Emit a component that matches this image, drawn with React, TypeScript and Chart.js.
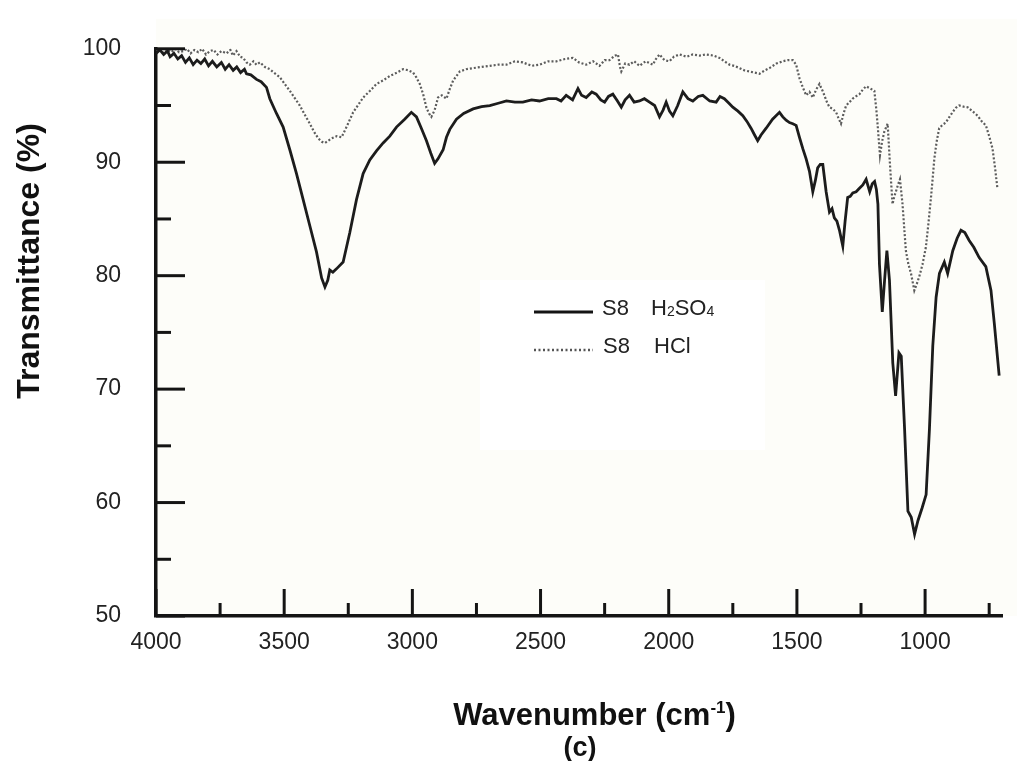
import React, { useEffect, useRef } from "react";
import { Chart, registerables } from "chart.js";

Chart.register(...registerables);

// ---- Data ----
const h2so4Wavenumber = [
  4000, 3985, 3970, 3955, 3945, 3930, 3915, 3900, 3885, 3870,
  3855, 3840, 3825, 3810, 3795, 3780, 3763, 3745, 3730, 3715,
  3699, 3685, 3670, 3655, 3647, 3630, 3608, 3590, 3569, 3556,
  3530, 3504, 3478, 3452, 3426, 3400, 3374, 3354, 3341, 3330,
  3322, 3310, 3296, 3270, 3244, 3218, 3192, 3166, 3140, 3114,
  3088, 3062, 3030, 3004, 2984, 2965, 2945, 2928, 2913, 2900,
  2880, 2867, 2854, 2828, 2800, 2763, 2730, 2698, 2665, 2633,
  2600, 2569, 2535, 2504, 2470, 2438, 2420, 2400, 2375, 2354,
  2340, 2322, 2300, 2283, 2265, 2250, 2235, 2218, 2200, 2185,
  2170, 2153, 2135, 2114, 2095, 2075, 2055, 2036, 2022, 2010,
  1997, 1984, 1965, 1945, 1925, 1906, 1885, 1867, 1840, 1815,
  1800, 1783, 1765, 1750, 1730, 1711, 1695, 1679, 1665, 1653,
  1640, 1620, 1595, 1568, 1555, 1542, 1529, 1516, 1503, 1490,
  1477, 1464, 1451, 1438, 1428, 1419, 1409, 1399, 1386, 1373,
  1363, 1354, 1344, 1334, 1321, 1312, 1302, 1292, 1282, 1269,
  1256, 1243, 1230, 1216, 1206, 1197, 1190, 1184, 1178, 1167,
  1158, 1149, 1139, 1126, 1115, 1102, 1093, 1080, 1067, 1054,
  1041, 1028, 1012, 996, 983, 970, 957, 944, 925, 912,
  892, 875, 860, 845, 828, 810, 789, 763, 743, 730,
  711,
];
const h2so4Transmittance = [
  99.6, 99.9, 99.5, 99.8, 99.3, 99.6, 99.1, 99.4, 98.8, 99.2,
  98.6, 99.0, 98.7, 99.1, 98.5, 98.9, 98.4, 98.8, 98.2, 98.6,
  98.1, 98.4, 97.9, 98.2, 97.8, 97.7, 97.3, 97.1, 96.6, 95.6,
  94.3, 93.1, 91.1, 89.0, 86.7, 84.4, 82.1, 79.8, 79.0, 79.6,
  80.5, 80.3, 80.6, 81.2, 83.8, 86.7, 89.0, 90.2, 91.0, 91.7,
  92.3, 93.1, 93.8, 94.4, 94.0, 93.0, 91.9, 90.8, 89.9, 90.3,
  91.1, 92.2, 92.9, 93.8, 94.3, 94.7, 94.9, 95.0, 95.2, 95.4,
  95.3, 95.3, 95.5, 95.4, 95.6, 95.6, 95.4, 95.9, 95.5, 96.5,
  95.9, 95.7, 96.2, 96.0, 95.5, 95.3, 95.8, 96.0, 95.4, 94.85,
  95.5, 95.9, 95.3, 95.4, 95.6, 95.3, 95.0, 94.0, 94.6, 95.3,
  94.5, 94.1, 95.0, 96.2, 95.6, 95.4, 95.8, 95.9, 95.4, 95.3,
  95.8, 95.6, 95.2, 94.85, 94.5, 94.1, 93.6, 93.0, 92.4, 91.9,
  92.4, 93.0, 93.8, 94.4, 94.0, 93.7, 93.5, 93.4, 93.25, 92.2,
  91.2, 90.3, 89.2, 87.4, 88.4, 89.5, 89.8, 89.8, 87.4, 85.6,
  85.9, 85.1, 84.8, 84.0, 82.6, 84.8, 86.9, 87.0, 87.3, 87.4,
  87.7, 88.0, 88.5, 87.4, 88.1, 88.3, 87.6, 86.3, 81.0, 76.8,
  79.6, 82.2, 79.6, 72.3, 69.4, 73.2, 72.9, 66.5, 59.25, 58.7,
  57.2, 58.4, 59.5, 60.7, 66.5, 73.8, 78.1, 80.2, 81.2, 80.2,
  82.2, 83.3, 84.0, 83.8, 83.1, 82.5, 81.6, 80.8, 78.7, 75.8,
  71.2,
];

const hclWavenumber = [
  4000, 3985, 3970, 3955, 3940, 3925, 3910, 3894, 3880, 3865,
  3850, 3835, 3820, 3805, 3790, 3775, 3760, 3745, 3725, 3710,
  3700, 3686, 3672, 3660, 3647, 3634, 3620, 3608, 3595, 3575,
  3556, 3540, 3517, 3498, 3478, 3460, 3439, 3420, 3400, 3384,
  3367, 3353, 3341, 3328, 3315, 3295, 3276, 3257, 3231, 3210,
  3192, 3165, 3140, 3115, 3088, 3060, 3036, 3015, 2997, 2985,
  2971, 2958, 2945, 2935, 2926, 2913, 2900, 2885, 2867, 2855,
  2841, 2815, 2790, 2763, 2730, 2698, 2665, 2633, 2600, 2569,
  2535, 2504, 2470, 2438, 2405, 2374, 2350, 2322, 2295, 2270,
  2250, 2231, 2210, 2198, 2190, 2185, 2170, 2153, 2135, 2114,
  2090, 2062, 2050, 2036, 2017, 1997, 1980, 1958, 1930, 1906,
  1880, 1854, 1825, 1802, 1783, 1763, 1745, 1724, 1705, 1685,
  1665, 1646, 1625, 1607, 1580, 1555, 1535, 1516, 1503, 1490,
  1477, 1464, 1451, 1438, 1425, 1412, 1400, 1393, 1383, 1373,
  1360, 1347, 1338, 1328, 1318, 1308, 1295, 1283, 1270, 1256,
  1243, 1230, 1214, 1198, 1190, 1185, 1176, 1168, 1159, 1146,
  1137, 1127, 1120, 1114, 1106, 1098, 1088, 1075, 1065, 1055,
  1042, 1032, 1023, 1010, 997, 987, 977, 970, 964, 955,
  945, 932, 919, 905, 893, 880, 867, 850, 834, 815,
  795, 779, 763, 750, 737, 727, 718,
];
const hclTransmittance = [
  99.9, 100.0, 99.6, 99.9, 99.7, 100.0, 99.7, 99.8, 100.0, 99.6,
  99.9, 99.7, 100.0, 99.5, 99.8, 99.9, 99.5, 99.8, 99.6, 99.9,
  99.4, 99.8, 99.3, 99.2, 98.8, 98.6, 98.9, 98.6, 98.8, 98.4,
  98.2, 97.9, 97.5, 96.9, 96.3, 95.7, 95.0, 94.2, 93.4, 92.7,
  92.1, 91.8, 91.7, 91.9, 92.1, 92.3, 92.2, 93.1, 94.4, 95.1,
  95.7, 96.3, 96.9, 97.2, 97.6, 97.9, 98.2, 98.1, 97.9, 97.5,
  96.9, 96.0, 94.8, 94.3, 94.0, 94.6, 95.7, 95.9, 95.6, 96.4,
  97.2, 98.0, 98.2, 98.3, 98.4, 98.5, 98.6, 98.6, 98.9, 98.8,
  98.5, 98.6, 98.9, 98.9, 99.1, 99.2, 98.8, 98.6, 98.9, 98.5,
  99.0, 99.0, 99.4, 99.5, 98.4, 98.0, 98.7, 98.6, 98.9, 98.5,
  98.9, 98.6, 99.1, 99.5, 99.0, 98.9, 99.3, 99.5, 99.3, 99.5,
  99.4, 99.5, 99.4, 99.2, 98.9, 98.6, 98.5, 98.3, 98.1, 98.0,
  97.9, 97.8, 98.1, 98.3, 98.7, 98.9, 99.0, 99.0, 98.6, 97.4,
  96.6, 95.9, 96.2, 95.7, 96.4, 96.9, 96.3, 95.9, 95.3, 94.85,
  94.7, 94.4, 93.9, 93.4, 94.3, 95.0, 95.3, 95.6, 95.8, 96.0,
  96.4, 96.7, 96.5, 96.3, 94.6, 93.25, 90.6, 91.8, 92.7, 93.4,
  89.8, 86.3, 87.0, 87.4, 88.0, 88.5, 86.3, 82.2, 81.0, 80.2,
  78.7, 79.3, 79.9, 81.0, 82.5, 84.6, 86.9, 88.7, 90.3, 91.8,
  93.0, 93.3, 93.5, 94.0, 94.4, 94.8, 95.0, 94.9, 94.85, 94.5,
  94.1, 93.6, 93.25, 92.3, 91.2, 89.5, 87.7,
];

const xMajorTicks = [4000, 3500, 3000, 2500, 2000, 1500, 1000];
const xMinorTicks = [3750, 3250, 2750, 2250, 1750, 1250, 750];
const yMajorTicks = [50, 60, 70, 80, 90, 100];
const yMinorTicks = [55, 65, 75, 85, 95];

const seriesNames = ["S8 H2SO4", "S8 HCl"];
const yTitle = "Transmittance (%)";
const xTitleMain = "Wavenumber (cm";
const xTitleSup = "-1";
const xTitleEnd = ")";
const panelLabel = "(c)";

const FONT = "'Liberation Sans', Arial, Helvetica, sans-serif";

const decorPlugin = {
  id: "decor",
  beforeDraw(chart: any) {
    const { ctx, width, height, chartArea } = chart;
    ctx.save();
    ctx.fillStyle = "#ffffff";
    ctx.fillRect(0, 0, width, height);
    ctx.fillStyle = "#fdfdf9";
    ctx.fillRect(chartArea.left, chartArea.top - 30, chartArea.right - chartArea.left + 15, chartArea.bottom - chartArea.top + 30);
    // white legend panel
    ctx.fillStyle = "#ffffff";
    ctx.fillRect(480, 280, 285, 170);
    ctx.restore();
  },
  afterDatasetsDraw(chart: any) {
    const { ctx, chartArea } = chart;
    const xs = chart.scales.x;
    const ys = chart.scales.y;
    ctx.save();
    ctx.strokeStyle = "#141414";
    ctx.lineWidth = 3;
    ctx.lineCap = "butt";
    const line = (x1: number, y1: number, x2: number, y2: number) => {
      ctx.beginPath();
      ctx.moveTo(x1, y1);
      ctx.lineTo(x2, y2);
      ctx.stroke();
    };
    xMajorTicks.forEach((v) => {
      const p = xs.getPixelForValue(v);
      line(p, chartArea.bottom, p, chartArea.bottom - 27);
    });
    xMinorTicks.forEach((v) => {
      const p = xs.getPixelForValue(v);
      line(p, chartArea.bottom, p, chartArea.bottom - 13);
    });
    yMajorTicks.forEach((v) => {
      const p = ys.getPixelForValue(v);
      line(chartArea.left, p, chartArea.left + 29, p);
    });
    yMinorTicks.forEach((v) => {
      const p = ys.getPixelForValue(v);
      line(chartArea.left, p, chartArea.left + 15, p);
    });
    ctx.restore();
  },
  afterDraw(chart: any) {
    const { ctx } = chart;
    ctx.save();
    // legend samples
    ctx.strokeStyle = "#141414";
    ctx.lineWidth = 3;
    ctx.beginPath();
    ctx.moveTo(534, 312);
    ctx.lineTo(593, 312);
    ctx.stroke();
    ctx.strokeStyle = "#555555";
    ctx.lineWidth = 2.5;
    ctx.setLineDash([2, 2.5]);
    ctx.beginPath();
    ctx.moveTo(534, 350);
    ctx.lineTo(593, 350);
    ctx.stroke();
    ctx.setLineDash([]);

    // legend text (with chemical subscripts)
    ctx.fillStyle = "#222222";
    ctx.textBaseline = "alphabetic";
    ctx.textAlign = "left";
    const [s1Prefix, s1Formula] = seriesNames[0].split(" ");
    const [s2Prefix, s2Formula] = seriesNames[1].split(" ");
    ctx.font = `22px ${FONT}`;
    ctx.fillText(s1Prefix, 602, 315);
    ctx.fillText(s2Prefix, 603, 353);
    let x = 651;
    for (const ch of s1Formula) {
      if (/[0-9]/.test(ch)) {
        ctx.font = `14px ${FONT}`;
        ctx.fillText(ch, x, 316);
        x += ctx.measureText(ch).width;
      } else {
        ctx.font = `22px ${FONT}`;
        ctx.fillText(ch, x, 315);
        x += ctx.measureText(ch).width;
      }
    }
    ctx.font = `22px ${FONT}`;
    ctx.fillText(s2Formula, 654, 353);

    // y-axis title
    ctx.fillStyle = "#111111";
    ctx.save();
    ctx.translate(39, 261);
    ctx.rotate(-Math.PI / 2);
    ctx.textAlign = "center";
    ctx.font = `bold 32px ${FONT}`;
    ctx.fillText(yTitle, 0, 0);
    ctx.restore();

    // x-axis title with superscript
    ctx.font = `bold 31px ${FONT}`;
    const wMain = ctx.measureText(xTitleMain).width;
    const wEnd = ctx.measureText(xTitleEnd).width;
    ctx.font = `bold 17px ${FONT}`;
    const wSup = ctx.measureText(xTitleSup).width;
    const total = wMain + wSup + wEnd;
    let tx = 594.5 - total / 2;
    ctx.textAlign = "left";
    ctx.font = `bold 31px ${FONT}`;
    ctx.fillText(xTitleMain, tx, 725);
    tx += wMain;
    ctx.font = `bold 17px ${FONT}`;
    ctx.fillText(xTitleSup, tx, 713);
    tx += wSup;
    ctx.font = `bold 31px ${FONT}`;
    ctx.fillText(xTitleEnd, tx, 725);

    // panel label
    ctx.textAlign = "center";
    ctx.font = `bold 27px ${FONT}`;
    ctx.fillText(panelLabel, 580, 756);
    ctx.restore();
  },
};

export default function App() {
  const canvasRef = useRef<HTMLCanvasElement | null>(null);

  useEffect(() => {
    document.body.style.margin = "0";
    const canvas = canvasRef.current;
    if (!canvas) return;
    const chart = new Chart(canvas, {
      type: "line",
      data: {
        datasets: [
          {
            label: seriesNames[0],
            data: h2so4Wavenumber.map((w, i) => ({ x: w, y: h2so4Transmittance[i] })),
            borderColor: "#1c1c1c",
            borderWidth: 2.8,
            pointRadius: 0,
            tension: 0,
            fill: false,
          },
          {
            label: seriesNames[1],
            data: hclWavenumber.map((w, i) => ({ x: w, y: hclTransmittance[i] })),
            borderColor: "#5c5c5c",
            borderWidth: 2.2,
            borderDash: [2, 2],
            pointRadius: 0,
            tension: 0,
            fill: false,
          },
        ],
      },
      options: {
        responsive: false,
        animation: false,
        devicePixelRatio: 1,
        layout: { padding: { top: 42, right: 19, left: 0, bottom: 0 } },
        plugins: {
          legend: { display: false },
          tooltip: { enabled: false },
        },
        scales: {
          x: {
            type: "linear",
            reverse: true,
            min: 700,
            max: 4000,
            afterFit: (s: any) => {
              s.height = 145;
            },
            afterBuildTicks: (s: any) => {
              s.ticks = xMajorTicks.map((v) => ({ value: v }));
            },
            grid: { display: false, drawTicks: false },
            border: { display: true, color: "#141414", width: 3.5 },
            ticks: {
              padding: 13,
              color: "#222222",
              font: { family: FONT, size: 23 },
              maxRotation: 0,
              callback: (v: any) => String(v),
            },
          },
          y: {
            type: "linear",
            min: 50,
            max: 100,
            afterFit: (s: any) => {
              s.width = 156;
            },
            afterBuildTicks: (s: any) => {
              s.ticks = yMajorTicks.map((v) => ({ value: v }));
            },
            grid: { display: false, drawTicks: false },
            border: { display: true, color: "#141414", width: 3.5 },
            ticks: {
              padding: 35,
              color: "#222222",
              font: { family: FONT, size: 23 },
              callback: (v: any) => String(v),
            },
          },
        },
      },
      plugins: [decorPlugin],
    } as any);
    return () => chart.destroy();
  }, []);

  return (
    <div style={{ position: "absolute", left: 0, top: 0, width: 1021, height: 761 }}>
      <canvas ref={canvasRef} width={1021} height={761} style={{ display: "block" }} />
    </div>
  );
}
